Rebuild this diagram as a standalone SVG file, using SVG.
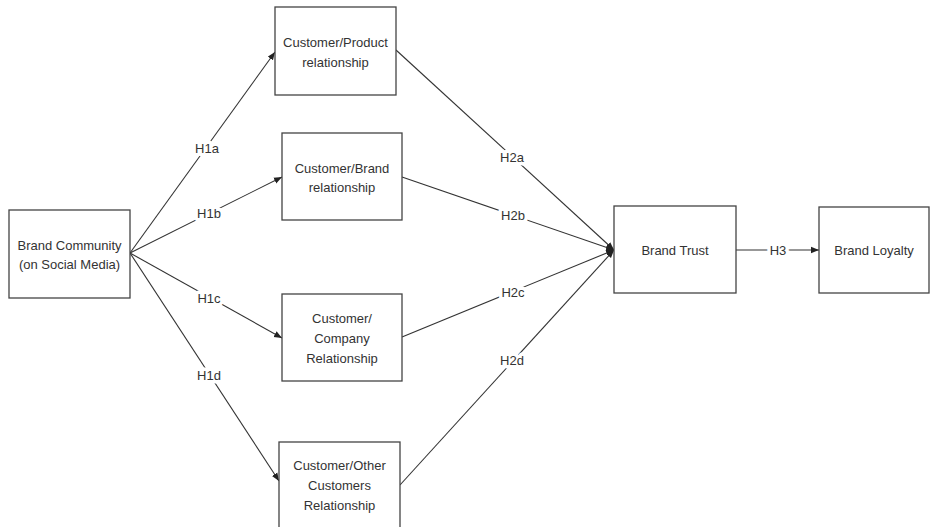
<svg xmlns="http://www.w3.org/2000/svg" width="931" height="527" viewBox="0 0 931 527">
<style>
.box{fill:#fff;stroke:#444;stroke-width:1.3}
.t{font-family:"Liberation Sans",Arial,sans-serif;font-size:13px;fill:#333;text-anchor:middle;dominant-baseline:central}
.lbl{font-family:"Liberation Sans",Arial,sans-serif;font-size:13px;fill:#333;text-anchor:middle;dominant-baseline:central;stroke:#fff;stroke-width:7;paint-order:stroke;stroke-linejoin:round}
.c{stroke:#333;stroke-width:1.1;fill:none}
.ca{stroke:#333;stroke-width:1.1;fill:none;marker-end:url(#ah)}
</style>
<defs>
<marker id="ah" viewBox="0 0 10 10" refX="10" refY="5" markerWidth="8" markerHeight="8" markerUnits="userSpaceOnUse" orient="auto">
<path d="M0,1 L10,5 L0,9 z" fill="#222"/>
</marker>
</defs>
<rect width="931" height="527" fill="#fff"/>
<g id="connectors">
<line class="ca" x1="130" y1="253" x2="275" y2="52"/>
<line class="ca" x1="130" y1="253" x2="282" y2="177"/>
<line class="ca" x1="130" y1="253" x2="282" y2="338"/>
<line class="ca" x1="130" y1="253" x2="279" y2="481"/>
<line class="ca" x1="396" y1="50" x2="614" y2="250"/>
<line class="ca" x1="402" y1="177" x2="614" y2="250"/>
<line class="ca" x1="402" y1="337" x2="614" y2="250"/>
<line class="ca" x1="400" y1="485" x2="614" y2="250"/>
<line class="ca" x1="736" y1="250" x2="819" y2="250"/>
<text class="lbl" x="207" y="148">H1a</text>
<text class="lbl" x="209" y="213">H1b</text>
<text class="lbl" x="209" y="298">H1c</text>
<text class="lbl" x="209" y="375">H1d</text>
<text class="lbl" x="512" y="157">H2a</text>
<text class="lbl" x="513" y="215">H2b</text>
<text class="lbl" x="513" y="292">H2c</text>
<text class="lbl" x="512" y="360">H2d</text>
<text class="lbl" x="778" y="250">H3</text>
</g>
<g id="brand-community">
<rect class="box" x="9" y="210" width="121" height="88"/>
<text class="t" x="69.5" y="245">Brand Community</text>
<text class="t" x="69.5" y="264">(on Social Media)</text>
</g>
<g id="customer-product">
<rect class="box" x="275" y="7" width="121" height="88"/>
<text class="t" x="335.5" y="42">Customer/Product</text>
<text class="t" x="335.5" y="62">relationship</text>
</g>
<g id="customer-brand">
<rect class="box" x="282" y="133" width="120" height="87"/>
<text class="t" x="342" y="168">Customer/Brand</text>
<text class="t" x="342" y="187">relationship</text>
</g>
<g id="customer-company">
<rect class="box" x="282" y="294" width="120" height="87"/>
<text class="t" x="342" y="318">Customer/</text>
<text class="t" x="342" y="338">Company</text>
<text class="t" x="342" y="358">Relationship</text>
</g>
<g id="customer-other">
<rect class="box" x="279" y="442" width="121" height="95"/>
<text class="t" x="339.5" y="465">Customer/Other</text>
<text class="t" x="339.5" y="485">Customers</text>
<text class="t" x="339.5" y="505">Relationship</text>
</g>
<g id="brand-trust">
<rect class="box" x="614" y="206" width="122" height="87"/>
<text class="t" x="675" y="250">Brand Trust</text>
</g>
<g id="brand-loyalty">
<rect class="box" x="819" y="207" width="110" height="86"/>
<text class="t" x="874" y="250">Brand Loyalty</text>
</g>
</svg>
